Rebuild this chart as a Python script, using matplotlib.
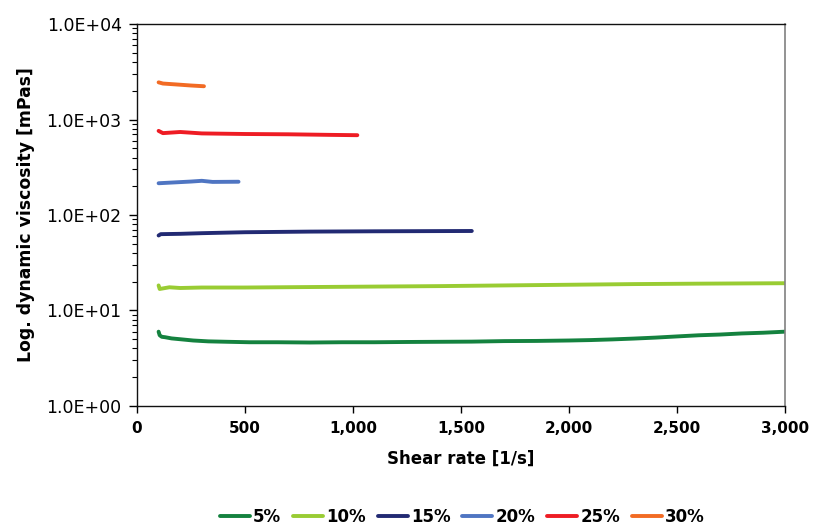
import matplotlib
matplotlib.use("Agg")
import matplotlib.pyplot as plt
from matplotlib.ticker import FuncFormatter, LogLocator, NullFormatter

# shear rate [1/s] and dynamic viscosity [mPas]
x5 = [100, 105, 115, 130, 160, 200, 260, 330, 420, 520, 650, 800, 950, 1100, 1250,
      1400, 1550, 1700, 1850, 2000, 2100, 2200, 2300, 2400, 2500, 2600, 2700, 2800, 2900, 3000]
y5 = [6.0, 5.5, 5.3, 5.25, 5.1, 5.0, 4.85, 4.75, 4.7, 4.65, 4.65, 4.62, 4.65, 4.65, 4.68,
      4.7, 4.72, 4.78, 4.8, 4.85, 4.9, 4.98, 5.08, 5.2, 5.35, 5.5, 5.6, 5.75, 5.85, 6.0]

x10 = [100, 105, 150, 200, 300, 500, 800, 1100, 1400, 1700, 2000, 2300, 2600, 3000]
y10 = [18.3, 16.8, 17.5, 17.2, 17.4, 17.4, 17.6, 17.8, 18.0, 18.3, 18.6, 18.9, 19.1, 19.3]

x15 = [100, 110, 200, 300, 500, 800, 1100, 1550]
y15 = [61, 63, 63.5, 64.5, 66, 67, 67.5, 68]

x20 = [100, 150, 250, 300, 350, 470]
y20 = [215, 218, 224, 228, 222, 223]

x25 = [100, 120, 200, 300, 500, 700, 900, 1020]
y25 = [760, 720, 740, 715, 705, 700, 690, 685]

x30 = [100, 120, 180, 250, 310]
y30 = [2450, 2380, 2330, 2270, 2230]

labels = ["5%", "10%", "15%", "20%", "25%", "30%"]
colors = ["#14823f", "#99cc33", "#222a73", "#4f75c2", "#ee1c24", "#f26b24"]
series = [(x5, y5), (x10, y10), (x15, y15), (x20, y20), (x25, y25), (x30, y30)]

plt.rcParams["font.family"] = ["DejaVu Sans"]

fig = plt.figure(figsize=(8.14, 5.30), dpi=100)
ax = fig.add_axes([0.1683, 0.234, 0.7961, 0.7207])

for (xs, ys), lab, c in zip(series, labels, colors):
    ax.plot(xs, ys, color=c, lw=2.8, label=lab, solid_capstyle="round")

ax.set_yscale("log")
ax.set_ylim(1, 1e4)
ax.set_xlim(0, 3000)
ax.set_xticks(range(0, 3001, 500))
ax.xaxis.set_major_formatter(FuncFormatter(lambda v, p: f"{int(v):,}"))
ax.yaxis.set_major_locator(LogLocator(base=10, numticks=10))
ax.yaxis.set_major_formatter(FuncFormatter(lambda v, p: f"{v:.1E}"))
ax.yaxis.set_minor_locator(LogLocator(base=10, subs=range(2, 10), numticks=10))
ax.yaxis.set_minor_formatter(NullFormatter())

ax.tick_params(axis="x", which="major", direction="out", length=5, width=1,
               labelsize=11, pad=6)
ax.tick_params(axis="y", which="major", direction="out", length=6, width=1,
               labelsize=12.5, pad=5)
ax.tick_params(axis="y", which="minor", direction="out", length=3.5, width=0.8)
for t in ax.get_xticklabels():
    t.set_fontweight("bold")

for s in ["left", "bottom", "top"]:
    ax.spines[s].set_color("#111111")
    ax.spines[s].set_linewidth(1.0)
ax.spines["right"].set_color("#808080")
ax.spines["right"].set_linewidth(1.2)

ax.set_xlabel("Shear rate [1/s]", fontsize=12, fontweight="bold", labelpad=10)
ax.set_ylabel("Log. dynamic viscosity [mPas]", fontsize=12.4, fontweight="bold", labelpad=8)

fig.legend(loc="center", bbox_to_anchor=(0.568, 0.025), ncol=6, frameon=False,
           prop={"size": 12, "weight": "bold"}, handlelength=1.8, handletextpad=0.2,
           columnspacing=0.7)

fig.savefig("out.png", dpi=100)
